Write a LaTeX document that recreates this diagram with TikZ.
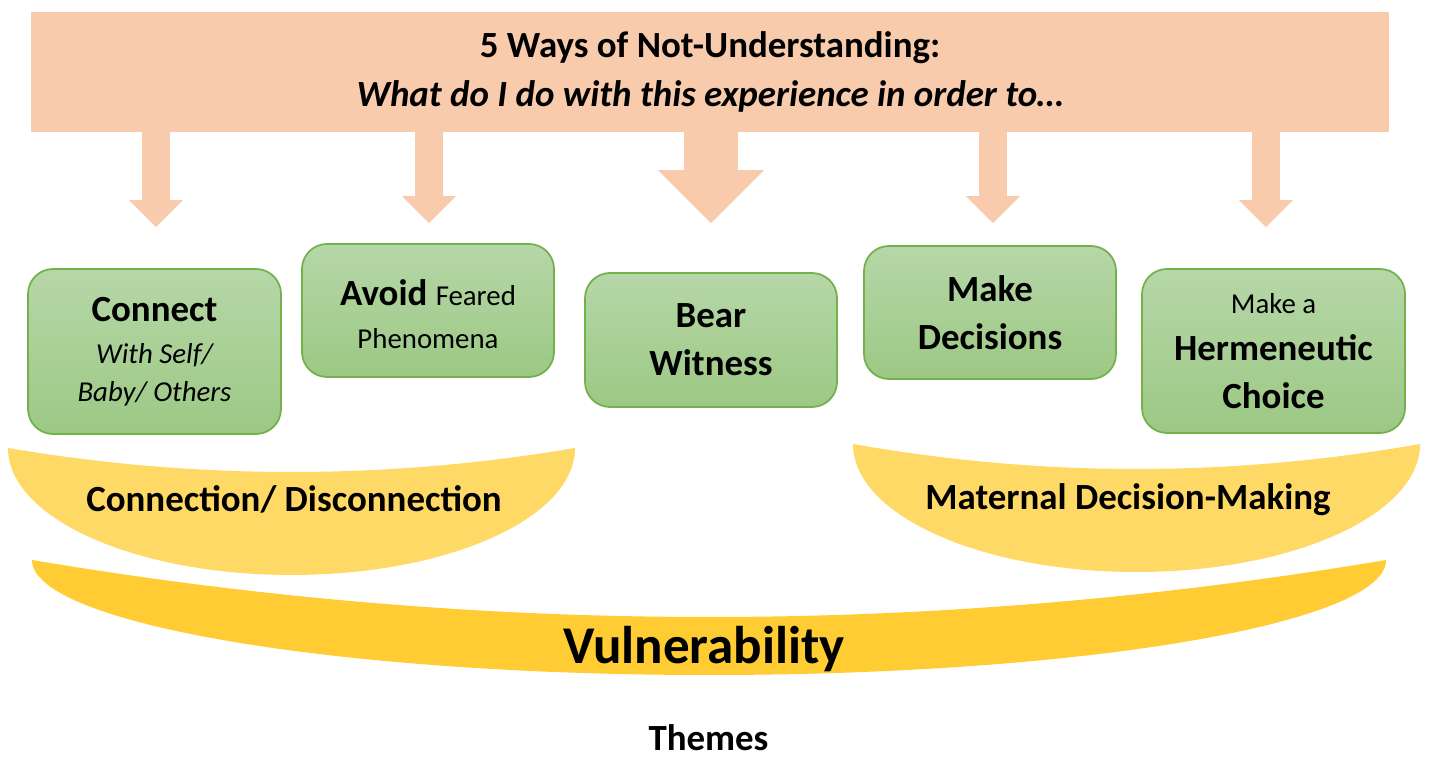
\documentclass[tikz,border=0pt]{standalone}
\usepackage{fontspec}
\setmainfont{Carlito}
\usetikzlibrary{positioning,arrows.meta}
\usepackage{xcolor}

\definecolor{peach}{HTML}{F8CBAD}
\definecolor{waytop}{HTML}{B6D7A8}
\definecolor{waybottom}{HTML}{9CC884}
\definecolor{wayline}{HTML}{74B04C}
\definecolor{paleGold}{HTML}{FFD966}
\definecolor{deepGold}{HTML}{FFCC33}

% smaller plain text inside the boxes
\newcommand{\lighttext}{\mdseries\fontsize{8.2}{10}\selectfont}
\newcommand{\lightit}{\lighttext\itshape}

\begin{document}
\begin{tikzpicture}
[x=1cm, y=-1cm,
% The banner style is used for the question at the top
banner/.style={rectangle, fill=peach, inner sep=0pt, minimum width=13.58cm, minimum height=1.195cm, align=center, font=\bfseries\fontsize{10.5}{13.9}\selectfont},
% The way style is used to draw the five green boxes
way/.style={rectangle, rounded corners=0.25cm, draw=wayline, line width=0.5pt, top color=waytop, bottom color=waybottom, minimum width=2.52cm, minimum height=1.33cm, inner sep=0pt, align=center, font=\bfseries\fontsize{10.5}{13.7}\selectfont},
% The pipe style is used to draw the arrows below the banner
pipe/.style={draw=peach, line width=0.28cm, -{Triangle[width=0.54cm, length=0.27cm, line width=0pt]}},
% The theme style is used for the words on the yellow bowls
theme/.style={anchor=base, inner sep=0pt, font=\bfseries\fontsize{10.5}{13}\selectfont}
]
\useasboundingbox (0,0) rectangle (14.29,7.57);

% Draw the question
\node [banner] (banner) at (7.10,0.72) {5 Ways of Not-Understanding:\\\textit{What do I do with this experience in order to…}};

% Draw the ways
\node [way, minimum width=2.53cm, minimum height=1.65cm] (conn) at (1.545,3.515) {Connect\\[-1.7pt]{\lightit With Self/}\\[-2.9pt]{\lightit Baby/ Others}};
\node [way, text height=21.5pt] (avoid) at (4.28,3.105) {Avoid {\lighttext Feared}\\[-1.5pt]{\lighttext Phenomena}};
\node [way, minimum height=1.34cm] (bear) at (7.11,3.40) {Bear\\Witness};
\node [way] (decide) at (9.90,3.125) {Make\\Decisions};
\node [way, minimum width=2.63cm, minimum height=1.64cm] (herm) at (12.735,3.51) {{\lighttext Make a}\\[-0.3pt]Hermeneutic\\Choice};

% Arrows from the question down to the ways
\foreach \b/\dx/\gap in {conn/0.015/0.41, avoid/0.01/0.20, decide/0.03/0.22, herm/-0.075/0.41}{
  \path ([xshift=\dx cm]\b.north) coordinate (tip);
  \draw[pipe] (banner.south -| tip) -- ([yshift=\gap cm]tip);
}
\draw[pipe, line width=0.54cm, -{Triangle[width=1.06cm, length=0.53cm, line width=0pt]}] (banner.south -| bear.north) -- ([yshift=0.49cm]bear.north);

% Bowls for the themes
\fill[paleGold] (0.08,4.48) .. controls (0.08,5.181) and (1.349,5.75) .. (2.915,5.75)
  .. controls (4.481,5.75) and (5.75,5.181) .. (5.75,4.48)
  .. controls (3.86,4.80) and (1.97,4.80) .. cycle;
\fill[paleGold] (8.53,4.44) .. controls (8.53,5.147) and (9.799,5.72) .. (11.365,5.72)
  .. controls (12.931,5.72) and (14.20,5.147) .. (14.20,4.44)
  .. controls (12.31,4.773) and (10.42,4.773) .. cycle;
\fill[deepGold] (0.32,5.60) .. controls (0.32,6.235) and (3.351,6.75) .. (7.09,6.75)
  .. controls (10.829,6.75) and (13.86,6.235) .. (13.86,5.60)
  .. controls (9.347,6.36) and (4.833,6.36) .. cycle;

% Theme names
\node [theme] (conndis) at (2.94,5.12) {Connection/ Disconnection};
\node [theme] (maternal) at (11.28,5.10) {Maternal Decision-Making};
\node [theme, font=\bfseries\fontsize{15.1}{18}\selectfont] (vuln) at (7.04,6.64) {Vulnerability};
\node [theme] (themes) at (7.085,7.50) {Themes};
\end{tikzpicture}
\end{document}
